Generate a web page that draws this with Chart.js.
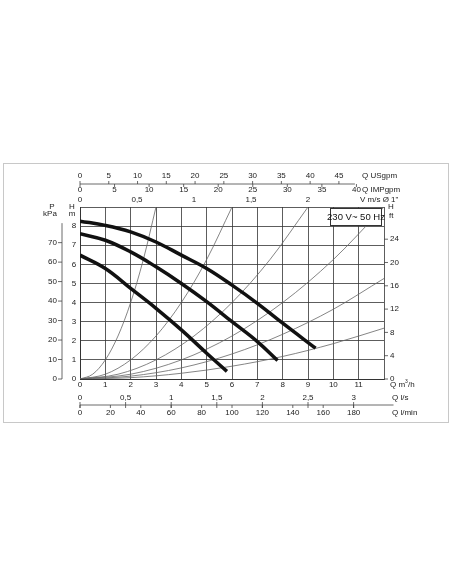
<!DOCTYPE html><html><head><meta charset="utf-8">
<script src="https://cdn.jsdelivr.net/npm/chart.js@4/dist/chart.umd.min.js"></script>
<style>html,body{margin:0;padding:0;background:#fff}canvas{display:block}</style></head><body>
<canvas id="c" width="452" height="584"></canvas>
<script>
// pump curves: Q (m3/h), H (m)
const pumpQ1=[0,1,2,3,4,5,6,7,8,9.3];
const pumpH1=[8.26,8.04,7.7,7.17,6.48,5.78,4.91,3.96,2.92,1.61];
const pumpQ2=[0,1,2,3,4,5,6,7,7.8];
const pumpH2=[7.6,7.26,6.65,5.87,5.0,4.05,3.0,1.96,0.97];
const pumpQ3=[0,1,2,3,4,5,5.8];
const pumpH3=[6.48,5.78,4.74,3.7,2.57,1.35,0.4];
// system curves
const sysQA=[0,0.5,1,1.5,2,2.5,3], sysHA=[0,0.25,1,2.25,4,6.25,9];
const sysQB=[0,1,2,3,4,5,6], sysHB=[0,0.25,1,2.25,4,6.25,9];
const sysQC=[0,1.5,3,4.5,6,7.5,9], sysHC=[0,0.25,1,2.25,4,6.25,9];
const sysQD=[0,2,4,6,8,10,12], sysHD=[0,0.25,1,2.25,4,6.25,9];
const sysQE=[0,2,4,6,8,10,12], sysHE=[0,0.15,0.58,1.31,2.34,3.65,5.26];
const sysQF=[0,2,4,6,8,10,12], sysHF=[0,0.07,0.3,0.67,1.18,1.85,2.66];
// tick labels
const qTicks=['0','1','2','3','4','5','6','7','8','9','10','11'];
const hTicks=['0','1','2','3','4','5','6','7','8'];
const kpaTicks=[0,10,20,30,40,50,60,70];
const ftTicks=[0,4,8,12,16,20,24];
const usTicks=[0,5,10,15,20,25,30,35,40,45];
const impTicks=[0,5,10,15,20,25,30,35,40];
const vTicks=[[0,'0'],[0.5,'0,5'],[1,'1'],[1.5,'1,5'],[2,'2']];
const lsTicks=[[0,'0'],[0.5,'0,5'],[1,'1'],[1.5,'1,5'],[2,'2'],[2.5,'2,5'],[3,'3']];
const lminTicks=[0,20,40,60,80,100,120,140,160,180];
const boxLabel='230 V~ 50 Hz';

const pts=(q,h)=>q.map((v,i)=>({x:v,y:h[i]}));
const pump=(q,h)=>({data:pts(q,h),borderColor:'#111',borderWidth:3.5,pointRadius:0,tension:0.4,borderCapStyle:'butt'});
const sys=(q,h)=>({data:pts(q,h),borderColor:'#666',borderWidth:0.8,pointRadius:0,cubicInterpolationMode:'monotone'});

const F='8px "Liberation Sans", Arial, sans-serif';
const extra={id:'extra',
 beforeDraw(c){const x=c.ctx;x.save();x.fillStyle='#fff';x.fillRect(0,0,452,584);
  x.strokeStyle='#c8c8c8';x.lineWidth=1;x.strokeRect(3.5,163.5,445,259);x.restore();},
 afterDraw(c){
  const ctx=c.ctx,X=c.scales.x,Y=c.scales.y;const px=q=>X.getPixelForValue(q),py=h=>Y.getPixelForValue(h);
  ctx.save();ctx.font=F;ctx.fillStyle='#222';ctx.strokeStyle='#444';ctx.lineWidth=0.8;
  const txt=(t,x,y,a)=>{ctx.textAlign=a||'center';ctx.textBaseline='middle';ctx.fillText(t,x,y);};
  const line=(a,b,c2,d)=>{ctx.beginPath();ctx.moveTo(a,b);ctx.lineTo(c2,d);ctx.stroke();};
  line(px(0),184,px(45*0.2271)+16,184);
  usTicks.forEach(v=>{const p=px(v*0.2271);txt(String(v),p,176);line(p,181,p,184);});
  txt('Q USgpm',362,176,'left');
  impTicks.forEach(v=>{const p=px(v*0.2728);txt(String(v),p,190);line(p,184,p,187);});
  txt('Q IMPgpm',362,190,'left');
  vTicks.forEach(([v,t])=>txt(t,px(v*4.5),200));
  txt('V m/s Ø 1"',360,200,'left');
  txt('P',52,207);txt('kPa',50,214);txt('H',72,207);txt('m',72,214);
  hTicks.forEach((t,i)=>txt(t,74,py(i)));
  line(62,py(80/9.81),62,py(0));
  kpaTicks.forEach(v=>{const p=py(v/9.81);txt(String(v),57,p,'right');line(58,p,62,p);});
  txt('H',388,207,'left');txt('ft',389,216,'left');
  ftTicks.forEach(v=>{const p=py(v*0.3048);txt(String(v),390,p,'left');line(384,p,388,p);});
  qTicks.forEach((t,i)=>txt(t,px(i),385));
  ctx.textAlign='left';ctx.textBaseline='middle';ctx.fillText('Q m',390,385);
  ctx.font='5px "Liberation Sans", Arial';ctx.fillText('3',405,382);ctx.font=F;ctx.fillText('/h',408,385);
  line(px(0),405,px(3.35*3.6)+8,405);
  lsTicks.forEach(([v,t])=>{const p=px(v*3.6);txt(t,p,398);line(p,402,p,408);});
  txt('Q l/s',392,398,'left');
  lminTicks.forEach(v=>{const p=px(v*0.06);txt(String(v),p,413);line(p,405,p,408);});
  txt('Q l/min',392,413,'left');
  ctx.fillStyle='#fff';ctx.fillRect(330,208,52,18);ctx.strokeStyle='#333';ctx.lineWidth=1;ctx.strokeRect(330.5,208.5,51,17);
  ctx.fillStyle='#111';ctx.font='9.5px "Liberation Sans", Arial';txt(boxLabel,356,217.5);
  ctx.restore();}};

new Chart(document.getElementById('c'),{type:'line',
 data:{datasets:[pump(pumpQ1,pumpH1),pump(pumpQ2,pumpH2),pump(pumpQ3,pumpH3),
  sys(sysQA,sysHA),sys(sysQB,sysHB),sys(sysQC,sysHC),sys(sysQD,sysHD),sys(sysQE,sysHE),sys(sysQF,sysHF)]},
 options:{responsive:false,animation:false,devicePixelRatio:1,
  layout:{padding:{left:80,right:68,top:207,bottom:205}},
  plugins:{legend:{display:false},tooltip:{enabled:false}},
  scales:{x:{type:'linear',min:0,max:12,ticks:{display:false,stepSize:1},grid:{color:'#333',lineWidth:0.8,drawTicks:false},border:{color:'#333'}},
   y:{type:'linear',min:0,max:9,ticks:{display:false,stepSize:1},grid:{color:'#333',lineWidth:0.8,drawTicks:false},border:{color:'#333'}}}},
 plugins:[extra]});
</script></body></html>
